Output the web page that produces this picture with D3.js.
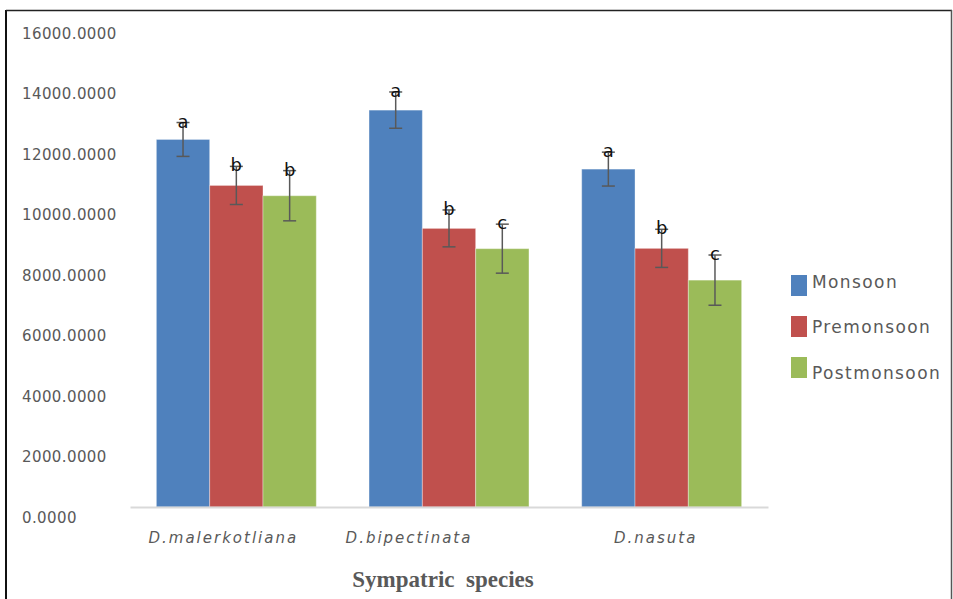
<!DOCTYPE html>
<html lang="en">
    <head>
        <meta charset="utf-8">
        <title>sympatric_species</title>
        <script type="text/javascript" src="https://cdn.jsdelivr.net/npm/d3@7"></script>
        <style>
            body { margin: 0; background: #fff; }
        </style>
    </head>

    <body>
        <script type="text/javascript">
        // Data
        var species = ["D.malerkotliana", "D.bipectinata", "D.nasuta"];
        var seasons = ["Monsoon", "Premonsoon", "Postmonsoon"];
        var monsoon = [12150, 13120, 11170];
        var premonsoon = [10630, 9210, 8550];
        var postmonsoon = [10290, 8540, 7500];
        var monsoonErr = [560, 600, 560];
        var premonsoonErr = [630, 610, 630];
        var postmonsoonErr = [830, 810, 830];
        var letters = [["a", "b", "b"], ["a", "b", "c"], ["a", "b", "c"]]; // [species][season]
        var yTicks = [0, 2000, 4000, 6000, 8000, 10000, 12000, 14000, 16000];

        var w = 953;
        var h = 599;
        var colors = ["#4f81bd", "#c0504d", "#9bbb59"];
        var labelShift = [-13, -40, -6]; // category labels are not centred in the source

        var values = [monsoon, premonsoon, postmonsoon];
        var errs = [monsoonErr, premonsoonErr, postmonsoonErr];

        // flat rows: one per bar
        var rows = [];
        species.forEach(function(sp, i){
            seasons.forEach(function(se, j){
                rows.push({sp: sp, se: se, v: values[j][i], e: errs[j][i], letter: letters[i][j], k: j});
            });
        });

        var svg = d3.select("body")
                    .append("svg")
                    .attr("width", w)
                    .attr("height", h);

        // frame
        svg.append("line").attr("x1", 6).attr("x2", 6).attr("y1", 10).attr("y2", h)
            .attr("stroke", "#111").attr("stroke-width", 2);
        svg.append("line").attr("x1", 6).attr("x2", 952).attr("y1", 10.5).attr("y2", 10.5)
            .attr("stroke", "#222").attr("stroke-width", 1.5);
        svg.append("line").attr("x1", 951.5).attr("x2", 951.5).attr("y1", 10).attr("y2", h)
            .attr("stroke", "#555").attr("stroke-width", 1.5);

        var xScale = d3.scaleBand()
                    .domain(species)
                    .range([130, 768])
                    .paddingInner(0.248)
                    .paddingOuter(0.124);

        var xSub = d3.scaleBand()
                    .domain(seasons)
                    .range([0, xScale.bandwidth()]);

        var yScale = d3.scaleLinear()
                    .domain([0, 16000])
                    .range([507, 23]);

        // y tick labels (no axis line in the source)
        var yAxis = d3.axisLeft(yScale)
                    .tickValues(yTicks)
                    .tickSize(0)
                    .tickFormat(d3.format(".4f"));
        var gy = svg.append("g")
            .attr("transform", "translate(22,10)")
            .call(yAxis);
        gy.select(".domain").remove();
        gy.selectAll("text")
            .attr("text-anchor", "start")
            .attr("x", 0)
            .attr("dy", "0.35em")
            .attr("font-family", "DejaVu Sans, sans-serif")
            .attr("font-size", "15px")
            .attr("letter-spacing", "0.4px")
            .attr("fill", "#595959");

        // bars
        svg.selectAll("rect.bar")
            .data(rows)
            .enter()
            .append("rect")
            .attr("class", "bar")
            .attr("x", function(d){ return xScale(d.sp) + xSub(d.se); })
            .attr("y", function(d){ return yScale(d.v); })
            .attr("width", xSub.bandwidth())
            .attr("height", function(d){ return yScale(0) - yScale(d.v); })
            .attr("fill", function(d){ return colors[d.k]; })
            .attr("stroke", "rgba(255,255,255,0.35)")
            .attr("stroke-width", 1);

        // x axis line
        var xAxis = d3.axisBottom(xScale).tickSize(0).tickFormat("");
        var gx = svg.append("g")
            .attr("transform", "translate(0,507)")
            .call(xAxis);
        gx.select(".domain").attr("stroke", "#d9d9d9").attr("stroke-width", 2);

        // category labels
        svg.selectAll("text.cat")
            .data(species)
            .enter()
            .append("text")
            .attr("class", "cat")
            .attr("x", function(d, i){ return xScale(d) + xScale.bandwidth() / 2 + labelShift[i]; })
            .attr("y", 543)
            .attr("text-anchor", "middle")
            .attr("font-family", "DejaVu Sans, sans-serif")
            .attr("font-style", "italic")
            .attr("font-size", "15px")
            .attr("letter-spacing", "2px")
            .attr("fill", "#595959")
            .text(function(d){ return d; });

        // error bars
        var cx = function(d){ return xScale(d.sp) + xSub(d.se) + xSub.bandwidth() / 2; };
        var eb = svg.selectAll("g.err")
            .data(rows)
            .enter()
            .append("g")
            .attr("class", "err")
            .attr("stroke", "#595959")
            .attr("stroke-width", 1.5);
        eb.append("line")
            .attr("x1", cx).attr("x2", cx)
            .attr("y1", function(d){ return yScale(d.v + d.e); })
            .attr("y2", function(d){ return yScale(d.v - d.e); });
        eb.append("line")
            .attr("x1", function(d){ return cx(d) - 6.5; })
            .attr("x2", function(d){ return cx(d) + 6.5; })
            .attr("y1", function(d){ return yScale(d.v + d.e); })
            .attr("y2", function(d){ return yScale(d.v + d.e); });
        eb.append("line")
            .attr("x1", function(d){ return cx(d) - 6.5; })
            .attr("x2", function(d){ return cx(d) + 6.5; })
            .attr("y1", function(d){ return yScale(d.v - d.e); })
            .attr("y2", function(d){ return yScale(d.v - d.e); });

        // significance letters
        svg.selectAll("text.letter")
            .data(rows)
            .enter()
            .append("text")
            .attr("class", "letter")
            .attr("x", cx)
            .attr("y", function(d){ return yScale(d.v + d.e) + 5; })
            .attr("text-anchor", "middle")
            .attr("font-family", "DejaVu Sans, sans-serif")
            .attr("font-size", "18px")
            .attr("fill", "#111")
            .text(function(d){ return d.letter; });

        // legend
        var legend = svg.selectAll("g.legend")
            .data(seasons)
            .enter()
            .append("g")
            .attr("class", "legend")
            .attr("transform", function(d, i){ return "translate(791," + (275 + i * 41) + ")"; });
        legend.append("rect")
            .attr("width", 16)
            .attr("height", 21)
            .attr("fill", function(d, i){ return colors[i]; });
        legend.append("text")
            .attr("x", 21)
            .attr("y", function(d, i){ return 7 + i * 4.5; })
            .attr("dy", "0.35em")
            .attr("font-family", "DejaVu Sans, sans-serif")
            .attr("font-size", "17px")
            .attr("letter-spacing", "1.4px")
            .attr("fill", "#595959")
            .text(function(d){ return d; });

        // axis title
        svg.append("text")
            .attr("x", 443)
            .attr("y", 587)
            .attr("text-anchor", "middle")
            .attr("font-family", "Liberation Serif, serif")
            .attr("font-weight", "bold")
            .attr("font-size", "23px")
            .attr("fill", "#595959")
            .style("white-space", "pre")
            .text("Sympatric  species");
        </script>
    </body>
</html>
